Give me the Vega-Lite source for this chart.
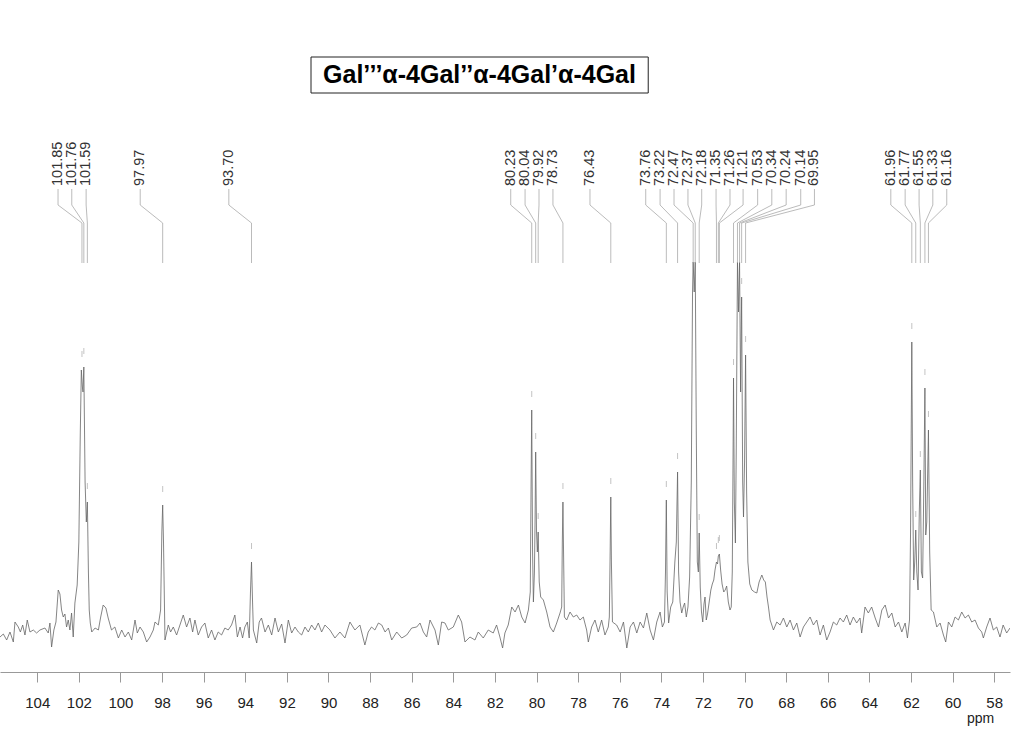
{
  "$schema": "https://vega.github.io/schema/vega-lite/v6.json",
  "width": 1010,
  "height": 672,
  "autosize": {"type": "none"},
  "padding": {"left": 0, "top": 0, "right": 14, "bottom": 65},
  "background": "white",
  "config": {
    "view": {"stroke": null},
    "axisX": {
      "grid": false,
      "tickSize": 10,
      "tickColor": "#999",
      "domainColor": "#999",
      "labelFontSize": 15,
      "labelPadding": 13,
      "labelColor": "#222",
      "labelFont": "Liberation Sans",
      "labelFlush": false,
      "titleFont": "Liberation Sans",
      "titleFontSize": 14,
      "titleFontWeight": "normal",
      "titleColor": "#222",
      "titleX": 980,
      "titleY": 46,
      "titleBaseline": "middle",
      "titleAlign": "center"
    }
  },
  "datasets": {
    "spectrum": [
      {"ppm":105.79,"i":-5},{"ppm":105.63,"i":-2},{"ppm":105.47,"i":-8},{"ppm":105.31,"i":0},{"ppm":105.15,"i":-10},{"ppm":105.07,"i":10},{"ppm":104.91,"i":5},{"ppm":104.81,"i":0},{"ppm":104.70,"i":7},{"ppm":104.59,"i":-3},{"ppm":104.48,"i":12},{"ppm":104.35,"i":0},{"ppm":104.19,"i":2},{"ppm":104.03,"i":-1},{"ppm":103.87,"i":2},{"ppm":103.63,"i":4},{"ppm":103.47,"i":-1},{"ppm":103.39,"i":9},{"ppm":103.31,"i":-15},{"ppm":103.20,"i":2},{"ppm":103.10,"i":10},{"ppm":102.99,"i":42},{"ppm":102.91,"i":38},{"ppm":102.83,"i":22},{"ppm":102.75,"i":15},{"ppm":102.67,"i":18},{"ppm":102.59,"i":5},{"ppm":102.51,"i":12},{"ppm":102.43,"i":2},{"ppm":102.35,"i":19},{"ppm":102.27,"i":-5},{"ppm":102.19,"i":29},{"ppm":102.08,"i":47},{"ppm":102.00,"i":90},{"ppm":101.93,"i":200},{"ppm":101.88,"i":262},{"ppm":101.83,"i":245},{"ppm":101.80,"i":240},{"ppm":101.76,"i":265},{"ppm":101.70,"i":150},{"ppm":101.64,"i":110},{"ppm":101.59,"i":130},{"ppm":101.54,"i":60},{"ppm":101.50,"i":22},{"ppm":101.45,"i":9},{"ppm":101.38,"i":0},{"ppm":101.22,"i":4},{"ppm":101.06,"i":2},{"ppm":100.95,"i":15},{"ppm":100.83,"i":27},{"ppm":100.70,"i":24},{"ppm":100.59,"i":14},{"ppm":100.43,"i":2},{"ppm":100.27,"i":5},{"ppm":100.10,"i":-6},{"ppm":99.94,"i":2},{"ppm":99.78,"i":-5},{"ppm":99.62,"i":0},{"ppm":99.46,"i":-8},{"ppm":99.30,"i":12},{"ppm":99.19,"i":-1},{"ppm":99.06,"i":5},{"ppm":98.90,"i":0},{"ppm":98.74,"i":-10},{"ppm":98.58,"i":-5},{"ppm":98.42,"i":2},{"ppm":98.34,"i":10},{"ppm":98.18,"i":7},{"ppm":98.07,"i":22},{"ppm":98.01,"i":100},{"ppm":97.97,"i":127},{"ppm":97.93,"i":90},{"ppm":97.86,"i":-8},{"ppm":97.70,"i":7},{"ppm":97.59,"i":0},{"ppm":97.46,"i":5},{"ppm":97.30,"i":-3},{"ppm":97.14,"i":7},{"ppm":96.98,"i":17},{"ppm":96.82,"i":5},{"ppm":96.66,"i":14},{"ppm":96.53,"i":0},{"ppm":96.42,"i":12},{"ppm":96.26,"i":-3},{"ppm":96.10,"i":5},{"ppm":95.94,"i":9},{"ppm":95.78,"i":-6},{"ppm":95.62,"i":2},{"ppm":95.46,"i":-8},{"ppm":95.30,"i":0},{"ppm":95.14,"i":-3},{"ppm":94.98,"i":4},{"ppm":94.82,"i":2},{"ppm":94.66,"i":7},{"ppm":94.50,"i":17},{"ppm":94.38,"i":-5},{"ppm":94.25,"i":5},{"ppm":94.13,"i":-6},{"ppm":94.02,"i":5},{"ppm":93.90,"i":10},{"ppm":93.81,"i":-6},{"ppm":93.75,"i":40},{"ppm":93.70,"i":70},{"ppm":93.65,"i":30},{"ppm":93.61,"i":2},{"ppm":93.45,"i":-11},{"ppm":93.33,"i":10},{"ppm":93.22,"i":14},{"ppm":93.05,"i":0},{"ppm":92.89,"i":7},{"ppm":92.73,"i":-3},{"ppm":92.57,"i":14},{"ppm":92.41,"i":0},{"ppm":92.25,"i":8},{"ppm":92.09,"i":-11},{"ppm":91.93,"i":12},{"ppm":91.77,"i":-1},{"ppm":91.61,"i":5},{"ppm":91.45,"i":0},{"ppm":91.29,"i":-3},{"ppm":91.13,"i":5},{"ppm":90.97,"i":0},{"ppm":90.81,"i":7},{"ppm":90.65,"i":2},{"ppm":90.49,"i":9},{"ppm":90.33,"i":0},{"ppm":90.17,"i":7},
      {"ppm":89.93,"i":2},{"ppm":89.69,"i":-6},{"ppm":89.45,"i":0},{"ppm":89.21,"i":-6},{"ppm":88.97,"i":10},{"ppm":88.73,"i":2},{"ppm":88.49,"i":7},{"ppm":88.25,"i":-13},{"ppm":88.09,"i":0},{"ppm":87.93,"i":5},{"ppm":87.77,"i":2},{"ppm":87.60,"i":9},{"ppm":87.44,"i":7},{"ppm":87.28,"i":0},{"ppm":87.12,"i":4},{"ppm":86.96,"i":-8},{"ppm":86.72,"i":0},{"ppm":86.48,"i":-6},{"ppm":86.24,"i":-3},{"ppm":86.00,"i":4},{"ppm":85.76,"i":5},{"ppm":85.60,"i":9},{"ppm":85.44,"i":0},{"ppm":85.28,"i":-5},{"ppm":85.12,"i":12},{"ppm":84.88,"i":2},{"ppm":84.72,"i":-13},{"ppm":84.56,"i":10},{"ppm":84.40,"i":9},{"ppm":84.24,"i":2},{"ppm":84.00,"i":5},{"ppm":83.76,"i":17},{"ppm":83.60,"i":10},{"ppm":83.44,"i":-10},{"ppm":83.20,"i":-5},{"ppm":82.96,"i":-8},{"ppm":82.80,"i":0},{"ppm":82.56,"i":-6},{"ppm":82.32,"i":2},{"ppm":82.08,"i":-1},{"ppm":81.92,"i":7},{"ppm":81.76,"i":-5},{"ppm":81.63,"i":-16},{"ppm":81.52,"i":-1},{"ppm":81.36,"i":7},{"ppm":81.19,"i":25},{"ppm":81.03,"i":20},{"ppm":80.87,"i":27},{"ppm":80.71,"i":15},{"ppm":80.55,"i":9},{"ppm":80.39,"i":22},{"ppm":80.30,"i":40},{"ppm":80.26,"i":150},{"ppm":80.23,"i":222},{"ppm":80.19,"i":80},{"ppm":80.15,"i":30},{"ppm":80.10,"i":60},{"ppm":80.07,"i":110},{"ppm":80.04,"i":180},{"ppm":80.00,"i":100},{"ppm":79.96,"i":80},{"ppm":79.92,"i":100},{"ppm":79.87,"i":50},{"ppm":79.80,"i":35},{"ppm":79.67,"i":32},{"ppm":79.51,"i":20},{"ppm":79.35,"i":5},{"ppm":79.19,"i":0},{"ppm":79.03,"i":9},{"ppm":78.87,"i":19},{"ppm":78.79,"i":25},{"ppm":78.76,"i":90},{"ppm":78.73,"i":130},{"ppm":78.70,"i":80},{"ppm":78.66,"i":15},{"ppm":78.55,"i":12},{"ppm":78.39,"i":20},{"ppm":78.23,"i":15},{"ppm":78.07,"i":17},{"ppm":77.91,"i":12},{"ppm":77.75,"i":15},{"ppm":77.59,"i":2},{"ppm":77.51,"i":-10},{"ppm":77.35,"i":5},{"ppm":77.19,"i":12},{"ppm":77.03,"i":0},{"ppm":76.87,"i":12},{"ppm":76.71,"i":-3},{"ppm":76.55,"i":5},{"ppm":76.50,"i":15},{"ppm":76.46,"i":80},{"ppm":76.43,"i":135},{"ppm":76.40,"i":70},{"ppm":76.35,"i":10},{"ppm":76.15,"i":7},{"ppm":75.98,"i":0},{"ppm":75.82,"i":10},{"ppm":75.66,"i":-16},{"ppm":75.50,"i":5},{"ppm":75.34,"i":10},{"ppm":75.18,"i":-1},{"ppm":75.02,"i":10},{"ppm":74.86,"i":4},{"ppm":74.70,"i":19},{"ppm":74.54,"i":2},{"ppm":74.38,"i":-8},{"ppm":74.22,"i":10},{"ppm":74.06,"i":20},{"ppm":73.95,"i":5},{"ppm":73.85,"i":10},{"ppm":73.80,"i":60},{"ppm":73.76,"i":132},{"ppm":73.72,"i":40},{"ppm":73.65,"i":9},
      {"ppm":73.55,"i":25},{"ppm":73.45,"i":30},{"ppm":73.35,"i":70},{"ppm":73.28,"i":90},{"ppm":73.22,"i":160},{"ppm":73.17,"i":60},{"ppm":73.10,"i":30},{"ppm":73.02,"i":19},{"ppm":72.95,"i":25},{"ppm":72.88,"i":29},{"ppm":72.80,"i":15},{"ppm":72.72,"i":25},{"ppm":72.64,"i":55},{"ppm":72.56,"i":150},{"ppm":72.50,"i":340},{"ppm":72.47,"i":370},{"ppm":72.42,"i":340},{"ppm":72.37,"i":370},{"ppm":72.32,"i":200},{"ppm":72.27,"i":70},{"ppm":72.22,"i":60},{"ppm":72.18,"i":99},{"ppm":72.13,"i":45},{"ppm":72.07,"i":20},{"ppm":72.01,"i":10},{"ppm":71.95,"i":28},{"ppm":71.90,"i":35},{"ppm":71.84,"i":12},{"ppm":71.78,"i":18},{"ppm":71.70,"i":30},{"ppm":71.62,"i":42},{"ppm":71.55,"i":48},{"ppm":71.48,"i":52},{"ppm":71.42,"i":62},{"ppm":71.35,"i":70},{"ppm":71.30,"i":68},{"ppm":71.26,"i":76},{"ppm":71.21,"i":78},{"ppm":71.15,"i":62},{"ppm":71.08,"i":48},{"ppm":71.00,"i":40},{"ppm":70.93,"i":42},{"ppm":70.86,"i":46},{"ppm":70.78,"i":30},{"ppm":70.70,"i":22},{"ppm":70.64,"i":25},{"ppm":70.59,"i":60},{"ppm":70.56,"i":150},{"ppm":70.53,"i":254},{"ppm":70.49,"i":130},{"ppm":70.44,"i":89},{"ppm":70.40,"i":180},{"ppm":70.34,"i":370},{"ppm":70.29,"i":320},{"ppm":70.24,"i":370},{"ppm":70.19,"i":240},{"ppm":70.14,"i":335},{"ppm":70.09,"i":150},{"ppm":70.05,"i":115},{"ppm":70.00,"i":170},{"ppm":69.95,"i":277},{"ppm":69.90,"i":140},{"ppm":69.84,"i":70},{"ppm":69.75,"i":48},{"ppm":69.65,"i":42},{"ppm":69.52,"i":40},{"ppm":69.41,"i":39},{"ppm":69.30,"i":50},{"ppm":69.17,"i":57},{"ppm":69.08,"i":52},{"ppm":69.00,"i":50},{"ppm":68.92,"i":35},{"ppm":68.85,"i":25},
      {"ppm":68.77,"i":12},{"ppm":68.61,"i":2},{"ppm":68.45,"i":10},{"ppm":68.29,"i":7},{"ppm":68.13,"i":14},{"ppm":67.97,"i":5},{"ppm":67.81,"i":12},{"ppm":67.65,"i":2},{"ppm":67.49,"i":9},{"ppm":67.33,"i":-5},{"ppm":67.17,"i":5},{"ppm":67.01,"i":10},{"ppm":66.85,"i":15},{"ppm":66.69,"i":7},{"ppm":66.53,"i":12},{"ppm":66.37,"i":-3},{"ppm":66.21,"i":7},{"ppm":66.05,"i":-8},{"ppm":65.89,"i":0},{"ppm":65.73,"i":10},{"ppm":65.57,"i":7},{"ppm":65.41,"i":14},{"ppm":65.25,"i":10},{"ppm":65.09,"i":17},{"ppm":64.93,"i":7},{"ppm":64.77,"i":15},{"ppm":64.61,"i":9},{"ppm":64.45,"i":14},{"ppm":64.37,"i":-1},{"ppm":64.21,"i":25},{"ppm":64.05,"i":19},{"ppm":63.89,"i":25},{"ppm":63.72,"i":14},{"ppm":63.56,"i":5},{"ppm":63.40,"i":22},{"ppm":63.24,"i":27},{"ppm":63.08,"i":14},{"ppm":62.92,"i":19},{"ppm":62.76,"i":5},{"ppm":62.60,"i":10},{"ppm":62.44,"i":0},{"ppm":62.28,"i":9},{"ppm":62.17,"i":-6},{"ppm":62.07,"i":12},{"ppm":62.02,"i":100},{"ppm":61.96,"i":290},{"ppm":61.92,"i":150},{"ppm":61.87,"i":52},{"ppm":61.82,"i":70},{"ppm":61.77,"i":102},{"ppm":61.72,"i":60},{"ppm":61.66,"i":42},{"ppm":61.60,"i":120},{"ppm":61.55,"i":162},{"ppm":61.50,"i":60},{"ppm":61.44,"i":54},{"ppm":61.38,"i":150},{"ppm":61.33,"i":244},{"ppm":61.29,"i":97},{"ppm":61.24,"i":110},{"ppm":61.16,"i":202},{"ppm":61.10,"i":80},{"ppm":61.03,"i":22},{"ppm":60.92,"i":20},{"ppm":60.76,"i":5},{"ppm":60.60,"i":9},{"ppm":60.44,"i":-3},{"ppm":60.33,"i":-10},{"ppm":60.20,"i":10},{"ppm":60.04,"i":5},{"ppm":59.88,"i":15},{"ppm":59.72,"i":12},{"ppm":59.56,"i":20},{"ppm":59.40,"i":14},{"ppm":59.24,"i":17},{"ppm":59.08,"i":10},{"ppm":58.92,"i":12},{"ppm":58.76,"i":4},{"ppm":58.60,"i":0},{"ppm":58.52,"i":-6},{"ppm":58.36,"i":5},{"ppm":58.20,"i":14},{"ppm":58.04,"i":2},{"ppm":57.88,"i":5},{"ppm":57.72,"i":-5},{"ppm":57.57,"i":7},{"ppm":57.40,"i":-1},{"ppm":57.24,"i":4}
    ],
    "peaks": [
      {"ppm":101.85,"label":"101.85","lx":103.0,"h":262},
      {"ppm":101.76,"label":"101.76","lx":102.34,"h":265},
      {"ppm":101.59,"label":"101.59","lx":101.65,"h":130},
      {"ppm":97.97,"label":"97.97","lx":99.05,"h":127},
      {"ppm":93.70,"label":"93.70","lx":94.79,"h":70},
      {"ppm":80.23,"label":"80.23","lx":81.24,"h":222},
      {"ppm":80.04,"label":"80.04","lx":80.55,"h":180},
      {"ppm":79.92,"label":"79.92","lx":79.88,"h":100},
      {"ppm":78.73,"label":"78.73","lx":79.21,"h":130},
      {"ppm":76.43,"label":"76.43","lx":77.43,"h":135},
      {"ppm":73.76,"label":"73.76","lx":74.75,"h":132},
      {"ppm":73.22,"label":"73.22","lx":74.06,"h":160},
      {"ppm":72.47,"label":"72.47","lx":73.39,"h":370},
      {"ppm":72.37,"label":"72.37","lx":72.72,"h":370},
      {"ppm":72.18,"label":"72.18","lx":72.06,"h":99},
      {"ppm":71.35,"label":"71.35","lx":71.37,"h":70},
      {"ppm":71.26,"label":"71.26","lx":70.70,"h":76},
      {"ppm":71.21,"label":"71.21","lx":70.07,"h":78},
      {"ppm":70.53,"label":"70.53","lx":69.37,"h":254},
      {"ppm":70.34,"label":"70.34","lx":68.69,"h":370},
      {"ppm":70.24,"label":"70.24","lx":68.00,"h":370},
      {"ppm":70.14,"label":"70.14","lx":67.30,"h":335},
      {"ppm":69.95,"label":"69.95","lx":66.64,"h":277},
      {"ppm":61.96,"label":"61.96","lx":62.97,"h":290},
      {"ppm":61.77,"label":"61.77","lx":62.28,"h":102},
      {"ppm":61.55,"label":"61.55","lx":61.61,"h":162},
      {"ppm":61.33,"label":"61.33","lx":60.95,"h":244},
      {"ppm":61.16,"label":"61.16","lx":60.28,"h":202}
    ]
  },
  "layer": [
    {
      "data": {"name": "spectrum"},
      "mark": {"type": "line", "stroke": "#666", "strokeWidth": 0.8, "clip": true},
      "encoding": {
        "x": {"field": "ppm", "type": "quantitative", "title": "ppm",
              "scale": {"domain": [57.24, 105.79], "reverse": true, "nice": false, "zero": false},
              "axis": {"values": [58,60,62,64,66,68,70,72,74,76,78,80,82,84,86,88,90,92,94,96,98,100,102,104]}},
        "y": {"field": "i", "type": "quantitative", "axis": null,
              "scale": {"domain": [-40, 632], "nice": false, "zero": false}}
      }
    },
    {
      "data": {"name": "peaks"},
      "transform": [{"filter": "datum.h < 360"}],
      "mark": {"type": "tick", "orient": "vertical", "size": 6, "thickness": 1, "color": "#aaa", "yOffset": -16},
      "encoding": {
        "x": {"field": "ppm", "type": "quantitative", "title": "ppm"},
        "y": {"field": "h", "type": "quantitative", "axis": null}
      }
    },
    {
      "data": {"name": "peaks"},
      "mark": {"type": "rule", "stroke": "#aaa", "strokeWidth": 0.8},
      "encoding": {
        "x": {"field": "lx", "type": "quantitative", "title": "ppm"},
        "y": {"datum": 443, "type": "quantitative", "axis": null},
        "y2": {"datum": 427}
      }
    },
    {
      "data": {"name": "peaks"},
      "mark": {"type": "rule", "stroke": "#aaa", "strokeWidth": 0.8},
      "encoding": {
        "x": {"field": "lx", "type": "quantitative", "title": "ppm"},
        "x2": {"field": "ppm"},
        "y": {"datum": 427, "type": "quantitative", "axis": null},
        "y2": {"datum": 409}
      }
    },
    {
      "data": {"name": "peaks"},
      "mark": {"type": "rule", "stroke": "#aaa", "strokeWidth": 0.8},
      "encoding": {
        "x": {"field": "ppm", "type": "quantitative", "title": "ppm"},
        "y": {"datum": 409, "type": "quantitative", "axis": null},
        "y2": {"datum": 369}
      }
    },
    {
      "data": {"name": "peaks"},
      "mark": {"type": "text", "angle": 270, "align": "left", "baseline": "middle", "fontSize": 14.5, "font": "Liberation Sans", "color": "#333"},
      "encoding": {
        "x": {"field": "lx", "type": "quantitative", "title": "ppm"},
        "y": {"datum": 446, "type": "quantitative", "axis": null},
        "text": {"field": "label"}
      }
    },
    {
      "data": {"values": [{}]},
      "mark": {"type": "rect", "filled": false, "stroke": "#222", "strokeWidth": 1},
      "encoding": {
        "x": {"datum": 90.84, "type": "quantitative", "title": "ppm"},
        "x2": {"datum": 74.63},
        "y": {"datum": 575, "type": "quantitative", "axis": null},
        "y2": {"datum": 539}
      }
    },
    {
      "data": {"values": [{"t": "Gal’’’α-4Gal’’α-4Gal’α-4Gal"}]},
      "mark": {"type": "text", "fontSize": 25, "fontWeight": "bold", "font": "Liberation Sans", "color": "#000", "align": "center", "baseline": "middle"},
      "encoding": {
        "x": {"datum": 82.74, "type": "quantitative", "title": "ppm"},
        "y": {"datum": 557, "type": "quantitative", "axis": null},
        "text": {"field": "t"}
      }
    }
  ]
}
